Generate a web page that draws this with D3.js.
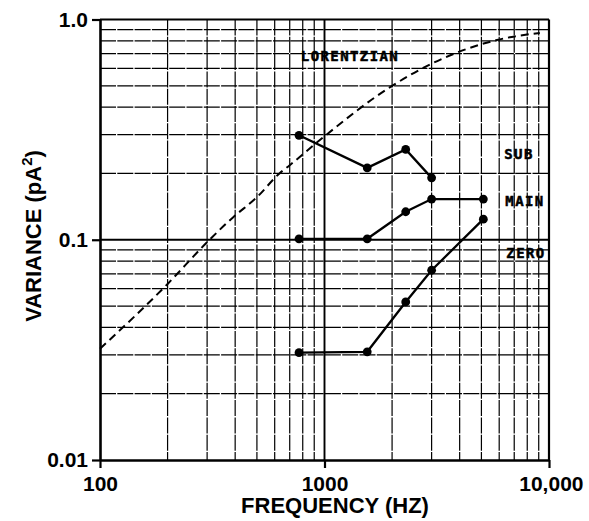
<!DOCTYPE html>
<html>
<head>
<meta charset="utf-8">
<script src="https://cdn.jsdelivr.net/npm/d3@7"></script>
<style>
  html, body { margin: 0; padding: 0; background: #fff; }
  svg { display: block; }
</style>
</head>
<body>
<svg id="chart" width="589" height="521"></svg>
<script>
// Frequencies (Hz) at which each level was measured
const frequencies = [770, 1550, 2300, 3000, 5100];

// Variance (pA^2) for each level
const subValues  = [0.298, 0.212, 0.257, 0.191];
const mainValues = [0.101, 0.101, 0.134, 0.153, 0.153];
const zeroValues = [0.0307, 0.031, 0.0522, 0.0727, 0.124];

// Lorentzian reference curve, read as (frequency, variance) pairs
const lorentzFreq  = [100, 200, 300, 390, 500, 630, 700, 1000, 1960, 3040, 5860, 9100];
const lorentzValue = [0.032, 0.063, 0.0975, 0.126, 0.156, 0.20, 0.218, 0.295, 0.493, 0.634, 0.807, 0.869];

// Axis tick labels
const xTicks = [100, 1000, 10000];
const xTickLabels = ["100", "1000", "10,000"];
const yTicks = [0.01, 0.1, 1.0];
const yTickLabels = ["0.01", "0.1", "1.0"];

const svg = d3.select("#chart");
const plotL = 100, plotR = 549, plotT = 19.5, plotB = 460;

const x = d3.scaleLog().domain([100, 10000]).range([plotL, plotR]);
const y = d3.scaleLog().domain([0.01, 1]).range([plotB, plotT]);

// Log grid: 2..9 within each decade
const gridX = [], gridY = [];
[100, 1000].forEach(d => { for (let k = 2; k <= 9; k++) gridX.push(d * k); });
[0.01, 0.1].forEach(d => { for (let k = 2; k <= 9; k++) gridY.push(+(d * k).toFixed(3)); });

const grid = svg.append("g").attr("stroke", "#000").attr("stroke-width", 1.2)
  .attr("stroke-dasharray", "16,1.3");
grid.selectAll("line.gx").data(gridX).join("line").attr("class", "gx")
  .attr("x1", d => x(d)).attr("x2", d => x(d))
  .attr("y1", plotT).attr("y2", plotB);
grid.selectAll("line.gy").data(gridY).join("line").attr("class", "gy")
  .attr("x1", plotL).attr("x2", plotR)
  .attr("y1", d => y(d)).attr("y2", d => y(d));

// Decade lines
svg.append("g").attr("stroke", "#000").attr("stroke-width", 1.9)
  .selectAll("line").data([0.1]).join("line")
  .attr("x1", plotL).attr("x2", plotR)
  .attr("y1", d => y(d)).attr("y2", d => y(d));
svg.append("g").attr("stroke", "#000").attr("stroke-width", 1.9)
  .selectAll("line").data([1000]).join("line")
  .attr("x1", d => x(d)).attr("x2", d => x(d))
  .attr("y1", plotT).attr("y2", plotB);

// Frame
svg.append("line").attr("x1", plotL).attr("x2", plotR).attr("y1", plotT).attr("y2", plotT)
  .attr("stroke", "#000").attr("stroke-width", 2.2);
svg.append("line").attr("x1", plotR).attr("x2", plotR).attr("y1", plotT).attr("y2", plotB)
  .attr("stroke", "#000").attr("stroke-width", 2.2);

// Axes
const xAxis = d3.axisBottom(x).tickValues(xTicks).tickFormat((d, i) => xTickLabels[i])
  .tickSizeInner(8).tickSizeOuter(0).tickPadding(8);
const yAxis = d3.axisLeft(y).tickValues(yTicks).tickFormat((d, i) => yTickLabels[i])
  .tickSizeInner(8).tickSizeOuter(0).tickPadding(4);

const gx = svg.append("g").attr("transform", `translate(0,${plotB})`).call(xAxis);
const gy = svg.append("g").attr("transform", `translate(${plotL},0)`).call(yAxis);
[gx, gy].forEach(g => {
  g.select(".domain").attr("stroke", "#000").attr("stroke-width", 2.6);
  g.selectAll(".tick line").attr("stroke", "#000").attr("stroke-width", 2.2);
  g.selectAll(".tick text")
    .attr("font-family", "'Liberation Sans', Arial, sans-serif")
    .attr("font-weight", "bold").attr("font-size", 21).attr("fill", "#000");
});
gx.selectAll(".tick text").attr("dy", "0.72em");
gx.selectAll(".tick text").filter(d => d === 10000)
  .attr("text-anchor", "end").attr("dx", 34);

// Axis titles
svg.append("text").attr("x", 335).attr("y", 513).attr("text-anchor", "middle")
  .attr("font-family", "'Liberation Sans', Arial, sans-serif").attr("font-weight", "bold")
  .attr("font-size", 22).text("FREQUENCY (HZ)");

const yt = svg.append("text").attr("transform", "translate(41,236) rotate(-90)")
  .attr("text-anchor", "middle")
  .attr("font-family", "'Liberation Sans', Arial, sans-serif").attr("font-weight", "bold")
  .attr("font-size", 22);
yt.append("tspan").text("VARIANCE (pA");
yt.append("tspan").attr("font-size", 15).attr("dy", -9).text("2");
yt.append("tspan").attr("dy", 9).text(")");

// Lorentzian dashed curve
const lorentz = lorentzFreq.map((f, i) => [f, lorentzValue[i]]);
svg.append("path").datum(lorentz)
  .attr("fill", "none").attr("stroke", "#000").attr("stroke-width", 2)
  .attr("stroke-dasharray", "8,5")
  .attr("d", d3.line().x(d => x(d[0])).y(d => y(d[1])).curve(d3.curveMonotoneX));

// Measured levels
const series = [subValues, mainValues, zeroValues];
const line = d3.line().x(d => x(d[0])).y(d => y(d[1]));
series.forEach(vals => {
  const pts = vals.map((v, i) => [frequencies[i], v]);
  svg.append("path").datum(pts).attr("fill", "none")
    .attr("stroke", "#000").attr("stroke-width", 2.3).attr("d", line);
  svg.append("g").selectAll("circle").data(pts).join("circle")
    .attr("cx", d => x(d[0])).attr("cy", d => y(d[1])).attr("r", 4.4).attr("fill", "#000");
});

// Curve labels
const labels = [
  { text: "LORENTZIAN", x: 350, y: 61 },
  { text: "SUB", x: 519, y: 159 },
  { text: "MAIN", x: 525, y: 206 },
  { text: "ZERO", x: 526, y: 258 }
];
svg.append("g").selectAll("text").data(labels).join("text")
  .attr("x", d => d.x).attr("y", d => d.y).attr("text-anchor", "middle")
  .attr("font-family", "'DejaVu Sans Mono', monospace").attr("font-weight", "bold")
  .attr("font-size", 14).attr("letter-spacing", 1.4)
  .attr("fill", "#000").attr("stroke", "#000").attr("stroke-width", 0.5)
  .text(d => d.text);
</script>
</body>
</html>
